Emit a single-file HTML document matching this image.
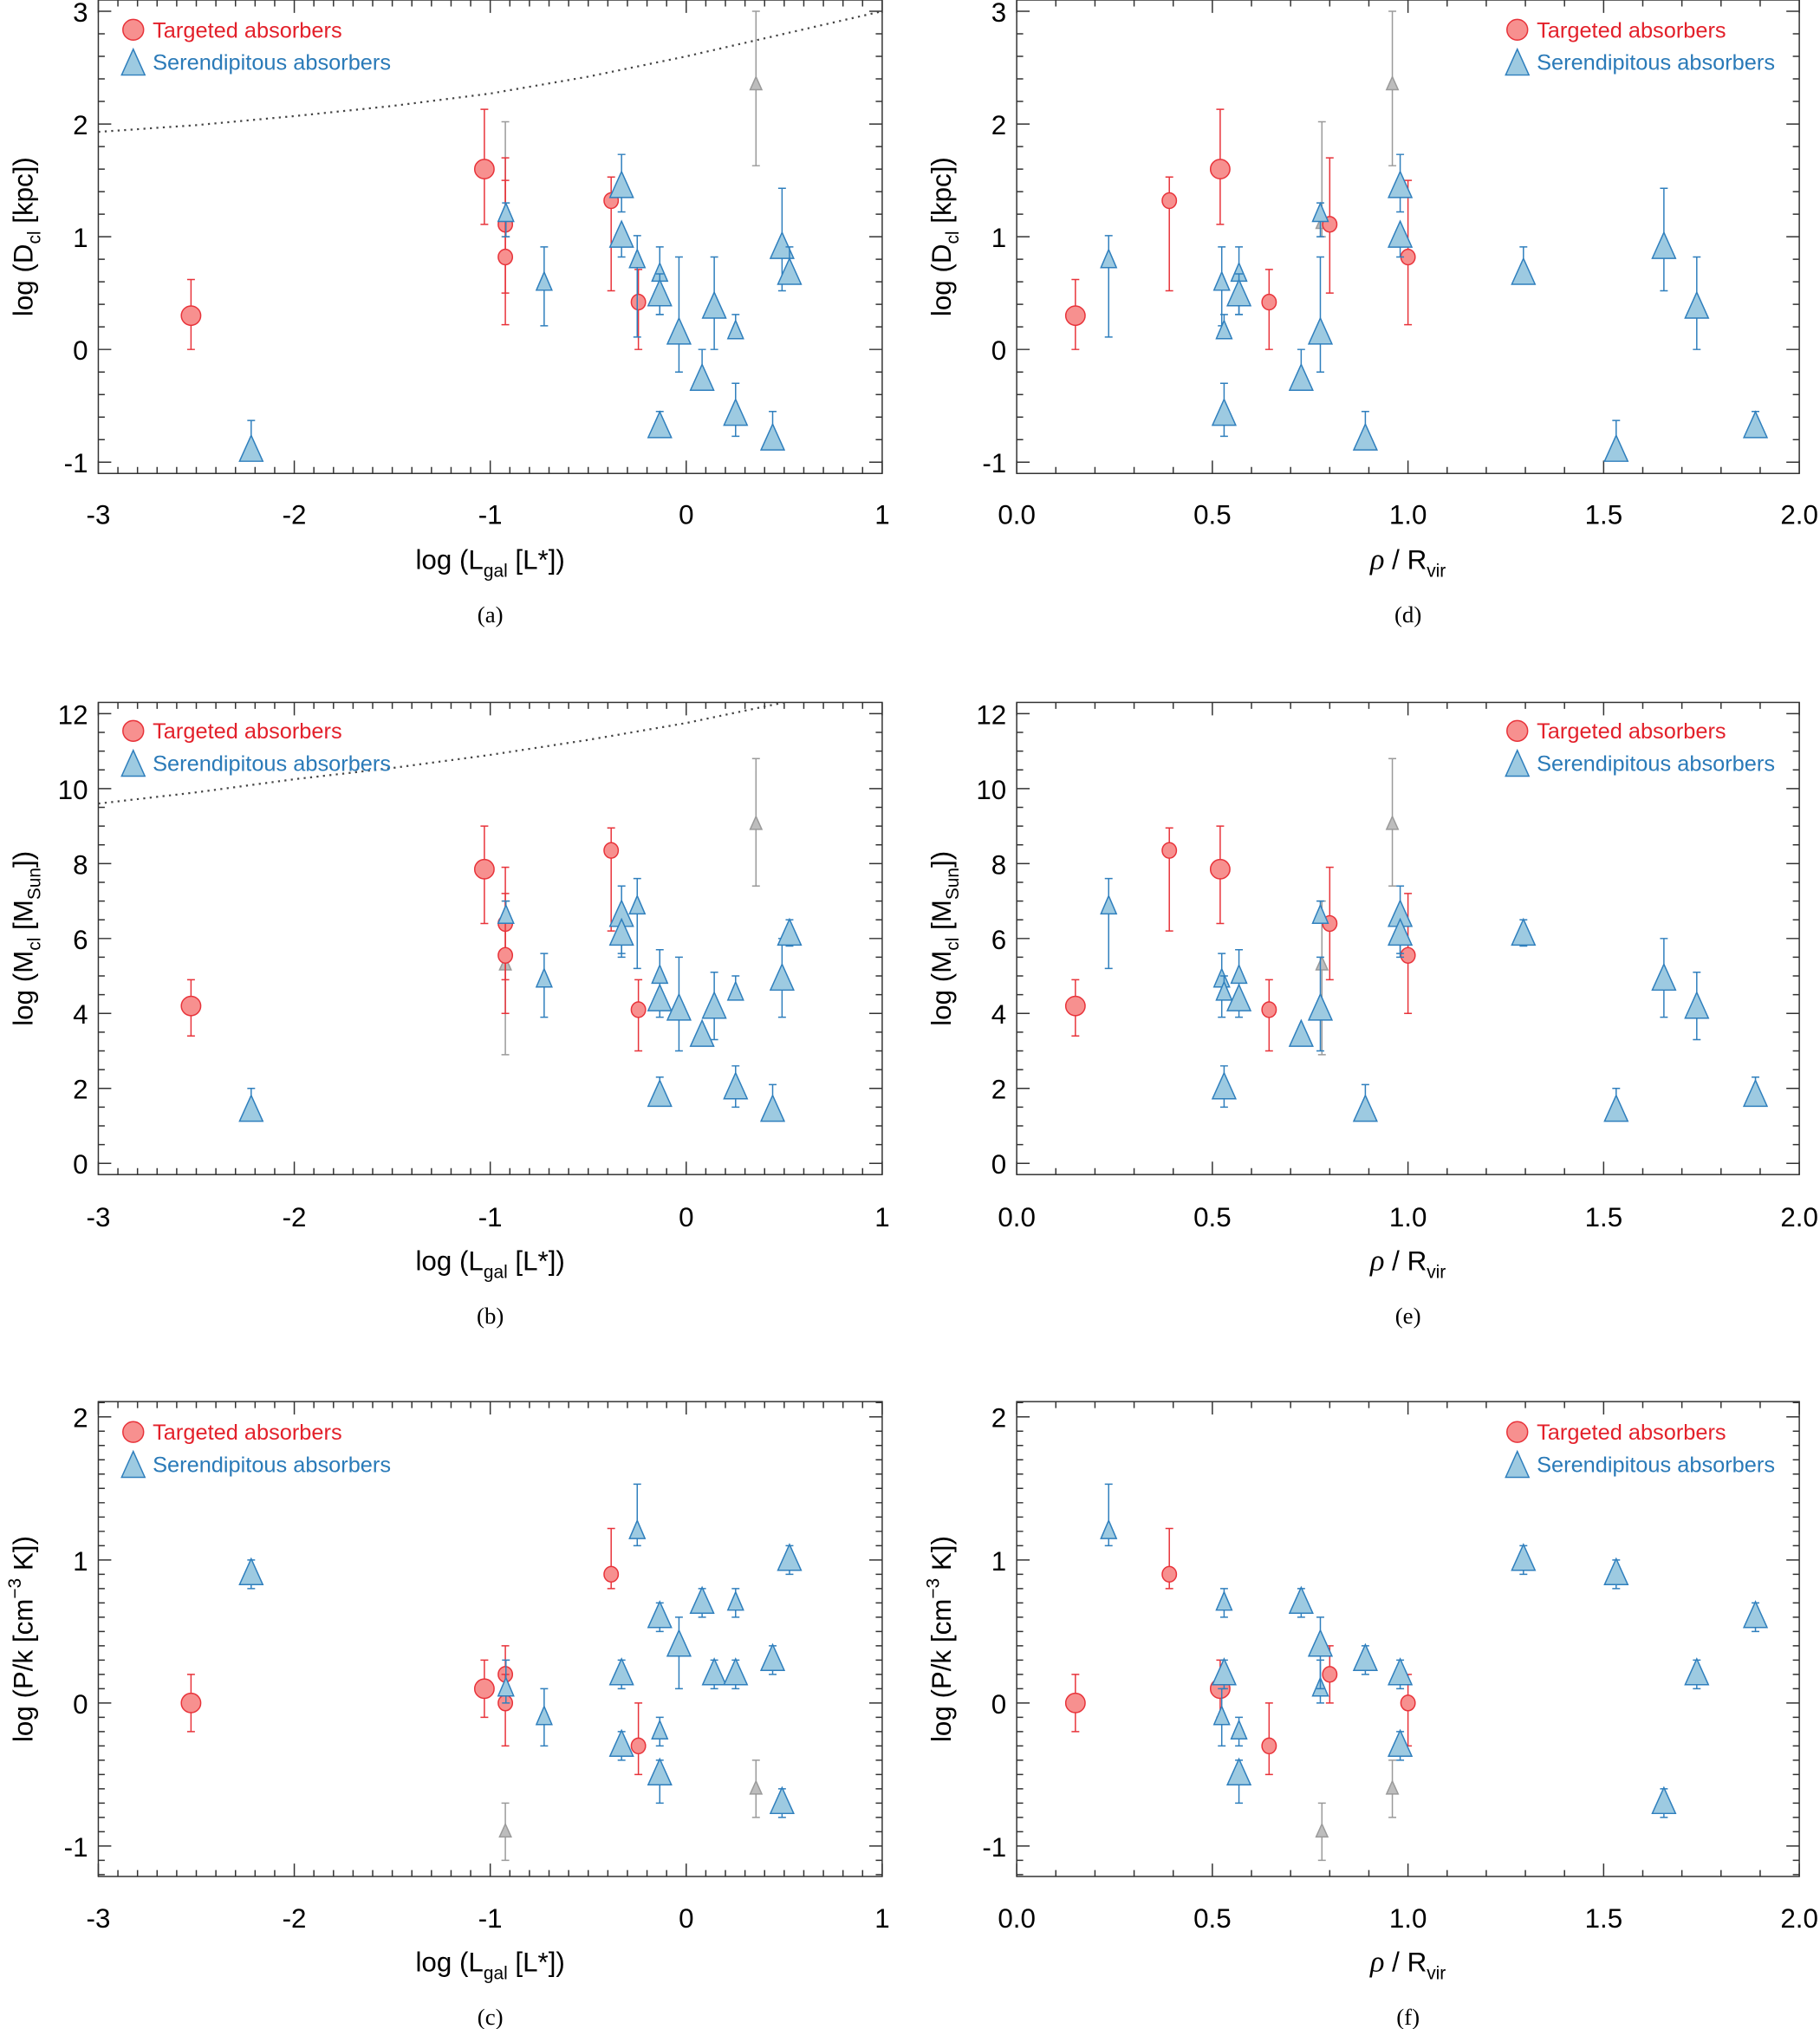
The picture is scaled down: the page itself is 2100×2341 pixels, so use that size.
<!DOCTYPE html>
<html><head><meta charset="utf-8"><style>
html,body{margin:0;padding:0;background:#fff;}
svg{display:block;font-family:"Liberation Sans",sans-serif;}
</style></head><body>
<svg id="fig" width="2100" height="2341" viewBox="0 0 1407 1568.5" xmlns="http://www.w3.org/2000/svg"></svg>
<script>
// ---- data ----
const redL=[-2.527,-1.03,-0.923,-0.923,-0.383,-0.244];
const redRho=[0.15,0.52,0.80,1.0,0.39,0.645];
const redD=[0.3,1.6,1.11,0.82,1.32,0.42];
const redDlo=[0.0,1.11,0.5,0.22,0.52,0.0];
const redDhi=[0.62,2.13,1.7,1.5,1.53,0.71];
const redM=[4.2,7.85,6.4,5.55,8.35,4.1];
const redMlo=[3.4,6.4,4.9,4.0,6.2,3.0];
const redMhi=[4.9,9.0,7.9,7.2,8.95,4.9];
const redP=[0.0,0.1,0.2,0.0,0.9,-0.3];
const redPlo=[-0.2,-0.1,0.0,-0.3,0.8,-0.5];
const redPhi=[0.2,0.3,0.4,0.2,1.22,0.0];
const redBig=[1,1,0,0,0,0];

const greyL=[-0.923,0.356];
const greyRho=[0.78,0.96];
const greyD=[1.12,2.35];
const greyDlo=[1.0,1.63];
const greyDhi=[2.02,3.0];
const greyM=[5.3,9.05];
const greyMlo=[2.9,7.4];
const greyMhi=[7.0,10.8];
const greyP=[-0.9,-0.6];
const greyPlo=[-1.1,-0.8];
const greyPhi=[-0.7,-0.4];

const blueL=[-2.22,-0.92,-0.725,-0.33,-0.33,-0.25,-0.135,-0.135,-0.135,-0.037,0.081,0.143,0.252,0.252,0.441,0.489,0.527];
const blueRho=[1.532,0.776,0.524,0.98,0.98,0.235,1.888,0.568,0.568,0.776,0.727,1.738,0.53,0.53,0.891,1.654,1.295];
const blueD=[-0.9,1.2,0.59,1.44,1.0,0.79,-0.69,0.67,0.48,0.14,-0.27,0.37,0.16,-0.58,-0.8,0.9,0.67];
const blueDlo=[-0.9,1.0,0.21,1.22,0.82,0.11,-0.69,0.31,0.31,-0.2,-0.27,0.0,0.11,-0.77,-0.8,0.52,0.67];
const blueDhi=[-0.63,1.3,0.91,1.73,1.0,1.01,-0.55,0.91,0.67,0.82,0.0,0.82,0.31,-0.3,-0.55,1.43,0.91];
const blueM=[1.4,6.6,4.9,6.6,6.1,6.85,1.8,5.0,4.35,4.1,3.4,4.15,4.55,2.0,1.4,4.9,6.1];
const blueMlo=[1.4,6.5,3.9,5.6,5.5,5.2,1.8,4.4,3.9,3.0,3.4,3.3,4.4,1.5,1.4,3.9,5.8];
const blueMhi=[2.0,7.0,5.6,7.4,6.1,7.6,2.3,5.7,4.35,5.5,3.4,5.1,5.0,2.6,2.1,6.0,6.5];
const blueP=[0.9,0.1,-0.1,0.2,-0.3,1.2,0.6,-0.2,-0.5,0.4,0.7,0.2,0.7,0.2,0.3,-0.7,1.0];
const bluePlo=[0.8,0.0,-0.3,0.1,-0.4,1.1,0.5,-0.3,-0.7,0.1,0.6,0.1,0.6,0.1,0.2,-0.8,0.9];
const bluePhi=[1.0,0.3,0.1,0.3,-0.2,1.53,0.7,-0.1,-0.4,0.6,0.8,0.3,0.8,0.3,0.4,-0.6,1.1];
const blueSmall=[0,1,1,0,0,1,0,1,0,0,0,0,1,0,0,0,0];

const curveX=[-3,-2.5,-2,-1.5,-1,-0.5,0,0.5,1];
const curveD=[1.93,1.99,2.07,2.16,2.27,2.42,2.6,2.8,3.0];
const curveM=[9.6,9.9,10.25,10.55,10.9,11.3,11.75,12.3,12.9];

const xTicksL=[-3,-2,-1,0,1];
const xTicksR=[0,0.5,1,1.5,2];
const yTicksD=[-1,0,1,2,3];
const yTicksM=[0,2,4,6,8,10,12];
const yTicksP=[-1,0,1,2];

// ---- drawing ----
const NS="http://www.w3.org/2000/svg";
const svg=document.getElementById('fig');
function el(tag,attrs,parent){const e=document.createElementNS(NS,tag);for(const k in attrs)e.setAttribute(k,attrs[k]);(parent||svg).appendChild(e);return e;}

const rows=[
 {top:0,bot:366,ymin:-1.1,ymax:3.1,yt:yTicksD,ymin_step:0.2,labY:405,titY:440,capY:481,legY:23,key:'D',ytitle:['log (D','cl',' [kpc])'],sup:false,fmtY:v=>String(v)},
 {top:543,bot:908,ymin:-0.3,ymax:12.3,yt:yTicksM,ymin_step:0.5,labY:948,titY:982,capY:1023,legY:565,key:'M',ytitle:['log (M','cl',' [M','Sun','])'],sup:false,fmtY:v=>String(v)},
 {top:1083.5,bot:1450.6,ymin:-1.213,ymax:2.107,yt:yTicksP,ymin_step:0.1,labY:1490,titY:1524,capY:1565,legY:1107,key:'P',sup:true,fmtY:v=>String(v)}
];
const cols=[
 {left:76,right:682,xmin:-3,xmax:1,xt:xTicksL,xstep:0.1,fmtX:v=>String(v),xkey:'L',ytx:18,legX:103},
 {left:786,right:1391,xmin:0,xmax:2,xt:xTicksR,xstep:0.1,fmtX:v=>v.toFixed(1),xkey:'Rho',ytx:728,legX:1173}
];
const caps=[['(a)','(d)'],['(b)','(e)'],['(c)','(f)']];
const data={
 red:{L:redL,Rho:redRho,D:redD,Dlo:redDlo,Dhi:redDhi,M:redM,Mlo:redMlo,Mhi:redMhi,P:redP,Plo:redPlo,Phi:redPhi},
 grey:{L:greyL,Rho:greyRho,D:greyD,Dlo:greyDlo,Dhi:greyDhi,M:greyM,Mlo:greyMlo,Mhi:greyMhi,P:greyP,Plo:greyPlo,Phi:greyPhi},
 blue:{L:blueL,Rho:blueRho,D:blueD,Dlo:blueDlo,Dhi:blueDhi,M:blueM,Mlo:blueMlo,Mhi:blueMhi,P:blueP,Plo:bluePlo,Phi:bluePhi}
};
const style={red:{fill:'#f7908f',stroke:'#e8333a'},grey:{fill:'#bdbdbd',stroke:'#9a9a9a'},blue:{fill:'#9dcae1',stroke:'#2f7fbd'}};

function tri(g,x,y,w,h,st,name){
 const p=el('polygon',{points:`${x},${y-0.6*h} ${x-w/2},${y+0.4*h} ${x+w/2},${y+0.4*h}`,fill:st.fill,stroke:st.stroke,'stroke-width':1},g);
 
 
 return p;
}
function errbar(g,x,ylo,yhi,st,name){
 const e=el('path',{d:`M${x},${ylo}V${yhi}M${x-3},${ylo}H${x+3}M${x-3},${yhi}H${x+3}`,stroke:st.stroke,'stroke-width':1,fill:'none'},g);
 
 
}

rows.forEach((r,ri)=>{cols.forEach((c,ci)=>{
 const g=el('g',{});
 
 
 const X=v=>c.left+(v-c.xmin)/(c.xmax-c.xmin)*(c.right-c.left);
 const Y=v=>r.bot-(v-r.ymin)/(r.ymax-r.ymin)*(r.bot-r.top);
 // clip
 const cid='clip'+ri+ci;
 const cp=el('clipPath',{id:cid},g);el('rect',{x:c.left,y:r.top,width:c.right-c.left,height:r.bot-r.top},cp);
 // frame
 const fr=el('rect',{x:c.left,y:r.top,width:c.right-c.left,height:r.bot-r.top,fill:'none',stroke:'#333','stroke-width':1},g);
 
 
 // ticks
 let d='';
 const nx=Math.round((c.xmax-c.xmin)/c.xstep);
 for(let i=0;i<=nx;i++){const v=c.xmin+i*c.xstep;const maj=c.xt.some(t=>Math.abs(t-v)<1e-6);const L=maj?10:5;const x=X(v);d+=`M${x},${r.bot}V${r.bot-L}M${x},${r.top}V${r.top+L}`;}
 const y0=Math.ceil(r.ymin/r.ymin_step-1e-6)*r.ymin_step;
 for(let v=y0;v<=r.ymax+1e-6;v+=r.ymin_step){const maj=r.yt.some(t=>Math.abs(t-v)<1e-6);const L=maj?10:5;const y=Y(v);d+=`M${c.left},${y}H${c.left+L}M${c.right},${y}H${c.right-L}`;}
 const tk=el('path',{d:d,stroke:'#333','stroke-width':1,fill:'none'},g);
 
 
 c.xt.forEach(v=>{const t=el('text',{x:X(v),y:r.labY,'font-size':21,'text-anchor':'middle',fill:'#000'},g);t.textContent=c.fmtX(v);
  });
 r.yt.forEach(v=>{const t=el('text',{x:c.left-8,y:Y(v)+8,'font-size':21,'text-anchor':'end',fill:'#000'},g);t.textContent=r.fmtY(v);
  });
 // x title
 const xt=el('text',{x:(c.left+c.right)/2,y:r.titY,'font-size':21,'text-anchor':'middle',fill:'#000'},g);
 
 if(ci==0){xt.innerHTML='log (L<tspan font-size="14" dy="6">gal</tspan><tspan dy="-6"> [L*])</tspan>';}
 else{xt.innerHTML='<tspan font-style="italic" font-family="Liberation Serif, serif" font-size="23">ρ</tspan> / R<tspan font-size="14" dy="6">vir</tspan>';}
 // y title
 const cy=(r.top+r.bot)/2;
 const yt=el('text',{x:0,y:0,'font-size':21,'text-anchor':'middle',fill:'#000',transform:`translate(${c.ytx+7},${cy}) rotate(-90)`},g);
 
 if(r.key=='D')yt.innerHTML='log (D<tspan font-size="14" dy="6">cl</tspan><tspan dy="-6"> [kpc])</tspan>';
 else if(r.key=='M')yt.innerHTML='log (M<tspan font-size="14" dy="6">cl</tspan><tspan dy="-6"> [M</tspan><tspan font-size="14" dy="6">Sun</tspan><tspan dy="-6">])</tspan>';
 else yt.innerHTML='log (P/k [cm<tspan font-size="14" dy="-9">−3</tspan><tspan dy="9"> K])</tspan>';
 // caption
 const cap=el('text',{x:(c.left+c.right)/2,y:r.capY,'font-size':18,'text-anchor':'middle','font-family':'Liberation Serif, serif',fill:'#000'},g);
 cap.textContent=caps[ri][ci];
 const pg=el('g',{'clip-path':`url(#${cid})`},g);
 // dotted curve
 if(ci==0&&r.key!='P'){const arr=r.key=='D'?curveD:curveM;let pd='';curveX.forEach((v,i)=>{pd+=(i?'L':'M')+X(v)+','+Y(arr[i]);});
  const cv=el('path',{d:pd,fill:'none',stroke:'#444','stroke-width':1.5,'stroke-dasharray':'1.5,3.5'},pg);
  }
 const k=r.key,xk=c.xkey;
 // grey
 data.grey[xk].forEach((xv,i)=>{errbar(pg,X(xv),Y(data.grey[k+'lo'][i]),Y(data.grey[k+'hi'][i]),style.grey,'grey-error-bar');
  tri(pg,X(xv),Y(data.grey[k][i]),9,10,style.grey,'grey-point');});
 // red
 data.red[xk].forEach((xv,i)=>{errbar(pg,X(xv),Y(data.red[k+'lo'][i]),Y(data.red[k+'hi'][i]),style.red,'targeted-error-bar');
  const big=redBig[i];const c1=el('ellipse',{cx:X(xv),cy:Y(data.red[k][i]),rx:big?7.5:5.5,ry:big?7.5:6,fill:style.red.fill,stroke:style.red.stroke,'stroke-width':1},pg);
  });
 // blue
 data.blue[xk].forEach((xv,i)=>{errbar(pg,X(xv),Y(data.blue[k+'lo'][i]),Y(data.blue[k+'hi'][i]),style.blue,'serendipitous-error-bar');
  const s=blueSmall[i];tri(pg,X(xv),Y(data.blue[k][i]),s?12:18,s?14:20,style.blue,'serendipitous-point');});
 // legend
 const lg=el('g',{},g);
 const lc=el('circle',{cx:c.legX,cy:r.legY,r:8,fill:style.red.fill,stroke:style.red.stroke},lg);
 
 const l1=el('text',{x:c.legX+15,y:r.legY+6,'font-size':17,fill:'#e3202a'},lg);l1.textContent='Targeted absorbers';
 
 tri(lg,c.legX,r.legY+25+2,18,20,style.blue,'legend-marker-serendipitous');
 const l2=el('text',{x:c.legX+15,y:r.legY+31,'font-size':17,fill:'#2a7ab8'},lg);l2.textContent='Serendipitous absorbers';
 
});});
</script>
</body></html>
